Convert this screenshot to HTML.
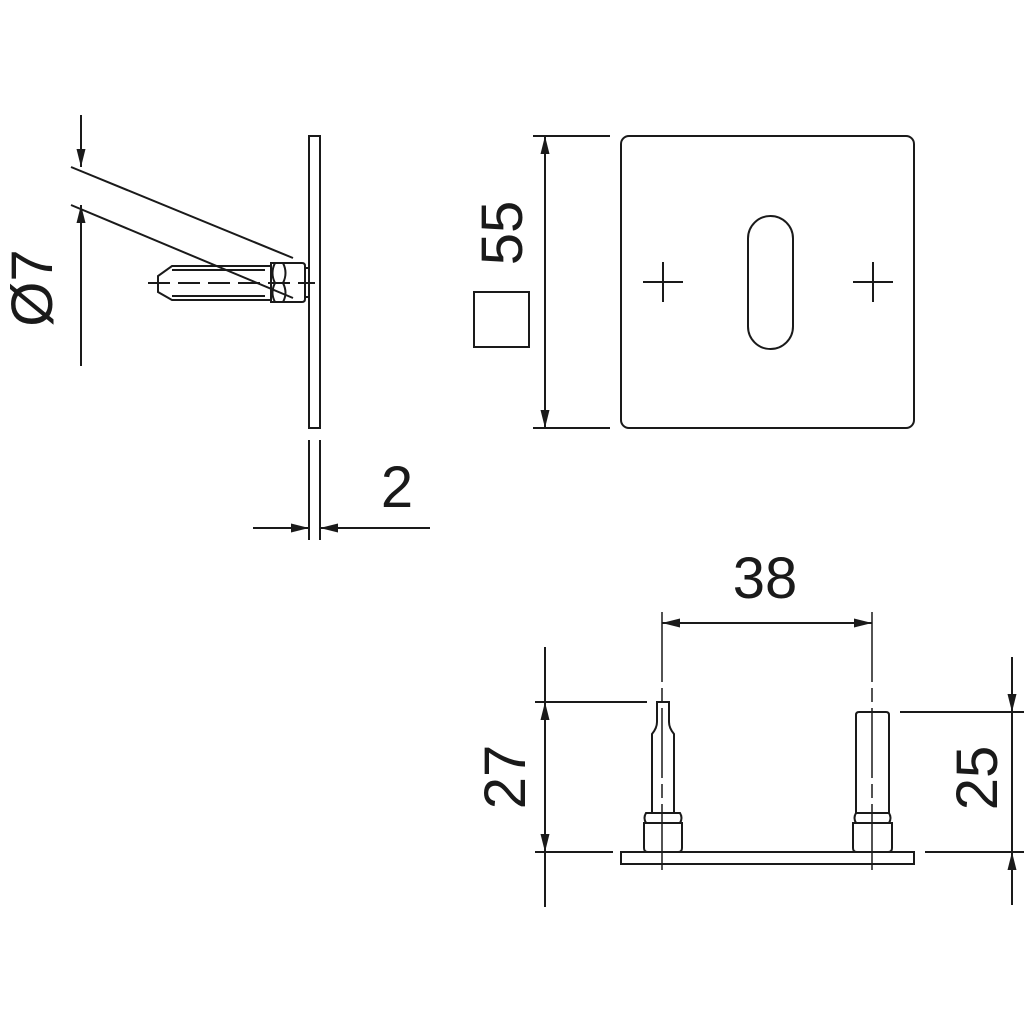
<!DOCTYPE html>
<html><head><style>html,body{margin:0;padding:0;background:#fff}svg{display:block}</style></head>
<body>
<svg width="1024" height="1024" viewBox="0 0 1024 1024" xmlns="http://www.w3.org/2000/svg">
<defs>
<marker id="a" markerWidth="18" markerHeight="10" refX="18" refY="5" orient="auto" markerUnits="userSpaceOnUse">
<path d="M0,0.5 L18,5 L0,9.5 Z" fill="#1a1a1a"/></marker>
</defs>
<g fill="none" stroke="#1a1a1a" stroke-width="2">
<rect x="309" y="136" width="11" height="292"/>
<rect x="305" y="268" width="4" height="29"/>
<path d="M271,263 H302 Q305,263 305,266 V299 Q305,302 302,302 H271 Z"/>
<path d="M275,263 Q270,273 275,283 Q270,293 275,302"/>
<path d="M283,263 Q288,273 283,283 Q288,293 283,302"/>
<path d="M271,266 H172 L158,276 V292 L172,300 H271"/>
<path d="M172,270 H265 M172,296 H265"/>
<path d="M148,283 H315" stroke-dasharray="22,8"/>
<line x1="81" y1="115" x2="81" y2="167" marker-end="url(#a)"/>
<line x1="81" y1="366" x2="81" y2="205" marker-end="url(#a)"/>
<line x1="71" y1="167" x2="293" y2="258"/>
<line x1="71" y1="205" x2="293" y2="298"/>
<line x1="309" y1="440" x2="309" y2="540"/>
<line x1="320" y1="440" x2="320" y2="540"/>
<line x1="253" y1="528" x2="309" y2="528" marker-end="url(#a)"/>
<line x1="430" y1="528" x2="320" y2="528" marker-end="url(#a)"/>
<rect x="621" y="136" width="293" height="292" rx="8"/>
<rect x="748" y="216" width="45" height="133" rx="22.5"/>
<path d="M643,282 H683 M663,262 V302 M853,282 H893 M873,262 V302"/>
<rect x="474" y="292" width="55" height="55"/>
<line x1="533" y1="136" x2="610" y2="136"/>
<line x1="533" y1="428" x2="610" y2="428"/>
<line x1="545" y1="282" x2="545" y2="136" marker-end="url(#a)"/>
<line x1="545" y1="282" x2="545" y2="428" marker-end="url(#a)"/>
<rect x="621" y="852" width="293" height="12"/>
<path d="M657,702 H669 V722 Q669,728 674,734 V813 H652 V734 Q657,728 657,722 Z"/>
<path d="M646,813 H680 Q683,818 680,823 H646 Q643,818 646,813 Z"/>
<path d="M644,823 H682 V848 Q682,852 678,852 H648 Q644,852 644,848 Z"/>
<path d="M856,715 Q856,712 859,712 H886 Q889,712 889,715 V813 H856 Z"/>
<path d="M856,813 H889 Q892,818 889,823 H856 Q853,818 856,813 Z"/>
<path d="M853,823 H892 V848 Q892,852 888,852 H857 Q853,852 853,848 Z"/>
<path d="M662,612 V870 M872,612 V870" stroke-width="1.5" stroke-dasharray="70,6,14,6"/>
<line x1="766" y1="623" x2="662" y2="623" marker-end="url(#a)"/>
<line x1="766" y1="623" x2="872" y2="623" marker-end="url(#a)"/>
<line x1="535" y1="702" x2="647" y2="702"/>
<line x1="535" y1="852" x2="613" y2="852"/>
<line x1="545" y1="647" x2="545" y2="907"/>
<line x1="545" y1="780" x2="545" y2="702" marker-end="url(#a)"/>
<line x1="545" y1="780" x2="545" y2="852" marker-end="url(#a)"/>
<line x1="900" y1="712" x2="1024" y2="712"/>
<line x1="925" y1="852" x2="1024" y2="852"/>
<line x1="1012" y1="712" x2="1012" y2="852"/>
<line x1="1012" y1="657" x2="1012" y2="712" marker-end="url(#a)"/>
<line x1="1012" y1="905" x2="1012" y2="852" marker-end="url(#a)"/>
</g>
<g font-family="Liberation Sans, sans-serif" font-size="58" fill="#1a1a1a" text-anchor="middle">
<text transform="translate(52,288) rotate(-90)">Ø7</text>
<text x="397" y="507">2</text>
<text transform="translate(522,233) rotate(-90)">55</text>
<text x="765" y="598">38</text>
<text transform="translate(525,777) rotate(-90)">27</text>
<text transform="translate(997,778) rotate(-90)">25</text>
</g>
</svg>
</body></html>
